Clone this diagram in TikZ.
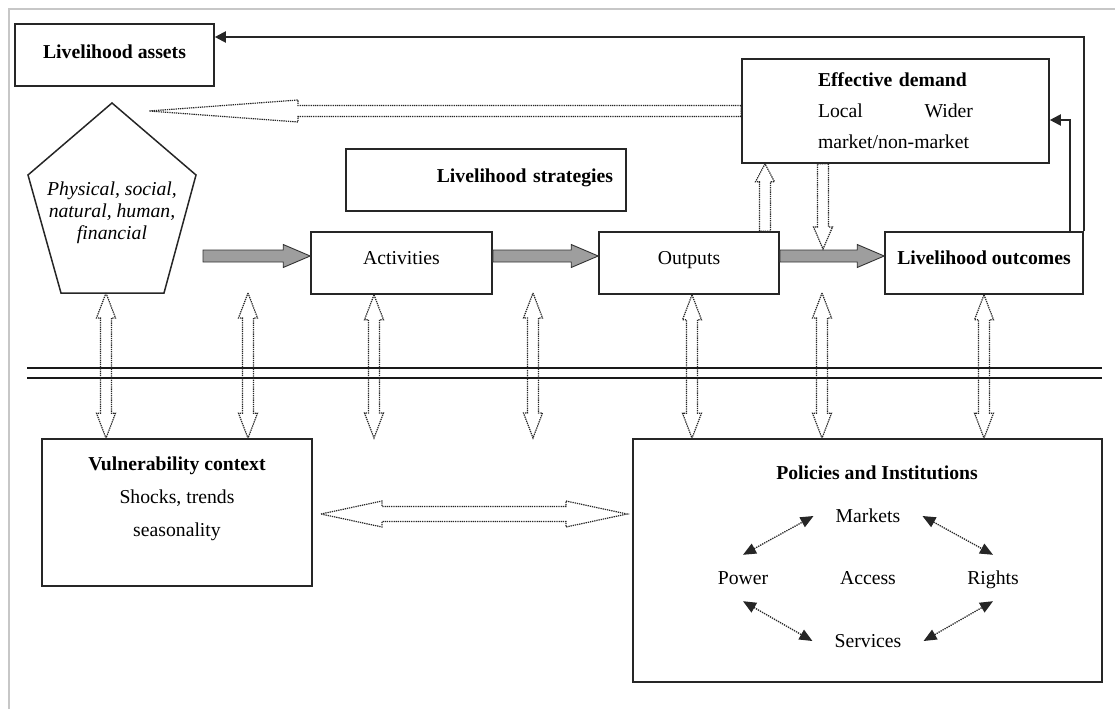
\documentclass[tikz,border=0pt]{standalone}
\usepackage{fontspec}
\setmainfont{Liberation Serif}
\usetikzlibrary{calc,arrows.meta}

% Block arrow with one head: [style]{tail}{tip}{shaft half-width}{head half-width}{head length}
\newcommand{\onehead}[6][hollow]{%
  \coordinate (hA) at #2; \coordinate (hB) at #3;
  \coordinate (hH) at ($(hB)!#6!(hA)$);
  \draw[#1] ($(hA)!#4!90:(hB)$) -- ($(hH)!#4!90:(hB)$) -- ($(hH)!#5!90:(hB)$) -- (hB)
    -- ($(hH)!#5!-90:(hB)$) -- ($(hH)!#4!-90:(hB)$) -- ($(hA)!#4!-90:(hB)$) -- cycle;}
% Block arrow with two heads: [style]{end}{end}{shaft half-width}{head half-width}{head length}
\newcommand{\twohead}[6][hollow]{%
  \coordinate (hA) at #2; \coordinate (hB) at #3;
  \coordinate (hH) at ($(hB)!#6!(hA)$);
  \coordinate (hG) at ($(hA)!#6!(hB)$);
  \draw[#1] (hA) -- ($(hG)!#5!-90:(hA)$) -- ($(hG)!#4!-90:(hA)$) -- ($(hH)!#4!90:(hB)$)
    -- ($(hH)!#5!90:(hB)$) -- (hB) -- ($(hH)!#5!-90:(hB)$) -- ($(hH)!#4!-90:(hB)$)
    -- ($(hG)!#4!90:(hA)$) -- ($(hG)!#5!90:(hA)$) -- cycle;}

\begin{document}
\begin{tikzpicture}[x=1pt,y=-1pt,
  every node/.style={font=\fontsize{19.7}{23.6}\selectfont, inner sep=0pt},
  box/.style={draw=black!85, line width=1.6pt},
  rowbox/.style={box, minimum height=62pt, text height=13.5pt, text depth=10pt},
  hollow/.style={draw=black!85, line width=1.2pt, dash pattern=on 1.3pt off 0.9pt},
  grayarr/.style={draw=black!80, fill=black!38, line width=0.9pt},
  feedback/.style={draw=black!85, line width=2pt, -{Triangle[length=11pt,width=11pt]}},
  link/.style={draw=black!85, line width=1.3pt, densely dotted,
    {Triangle[length=13pt,width=11pt]}-{Triangle[length=13pt,width=11pt]}},
  word/.style={text height=13pt, text depth=0pt, inner xsep=22pt, inner ysep=16.5pt}]

\useasboundingbox (0,0) rectangle (1115,709);
\draw[black!22, line width=1.5pt] (9,709) -- (9,9) -- (1115,9);

% boxes
\node[box, minimum width=199pt, minimum height=62pt, text height=13.5pt, text depth=6pt]
  (assets) at (114.5,55) {\textbf{Livelihood assets}};
\node[box, minimum width=307pt, minimum height=104pt, text width=155pt, align=left,
  font=\fontsize{19.7}{31}\selectfont]
  (ed) at (895.5,111) {\textbf{Effective demand}\\Local\hspace{0pt plus 1fill}Wider\\market/non-market};
\node[box, minimum width=280pt, minimum height=62pt, text width=254pt, align=right,
  text height=13.5pt, text depth=8pt]
  (strat) at (486,180) {\textbf{Livelihood strategies}};
\node[rowbox, minimum width=181pt] (act) at (401.5,263) {Activities};
\node[rowbox, minimum width=180pt] (out) at (689,263) {Outputs};
\node[rowbox, minimum width=198pt] (outc) at (984,263) {\textbf{Livelihood outcomes}};
\node[box, minimum width=270pt, minimum height=147pt] (vul) at (177,512.5) {};
\node[align=center, font=\fontsize{19.7}{33}\selectfont] (vultext) at (177,499)
  {\textbf{Vulnerability context}\\Shocks, trends\\seasonality};
\node[box, minimum width=469pt, minimum height=243pt] (pol) at (867.5,560.5) {};

% capital assets pentagon
\coordinate (p1) at (112,103); \coordinate (p2) at (196,175); \coordinate (p3) at (164,293);
\coordinate (p4) at (61,293);  \coordinate (p5) at (28,175);
\draw[black!85, line width=1.5pt] (p1) -- (p2) -- (p3) -- (p4) -- (p5) -- cycle;
\node[align=center, font=\fontsize{19.7}{22}\selectfont\itshape] (capitals) at (112,213)
  {Physical, social,\\natural, human,\\financial};

% policies and institutions
\node[font=\fontsize{19.7}{23.6}\selectfont\bfseries] (poltitle) at (877,473) {Policies and Institutions};
\node[word] (mkt) at (868,516) {Markets};
\node[word] (pow) at (743,578) {Power};
\node[word] (acc) at (868,578) {Access};
\node[word] (rig) at (993,578) {Rights};
\node[word] (ser) at (868,641) {Services};
\draw[link] (pow.north) -- (mkt.west);
\draw[link] (mkt.east) -- (rig.north);
\draw[link] (pow.south) -- (ser.west);
\draw[link] (ser.east) -- (rig.south);

% main flow
\coordinate (flow) at (203,256);
\onehead[grayarr]{(flow)}{(act.west |- flow)}{6pt}{11.5pt}{27pt}
\onehead[grayarr]{(act.east |- flow)}{(out.west |- flow)}{6pt}{11.5pt}{27pt}
\onehead[grayarr]{(out.east |- flow)}{(outc.west |- flow)}{6pt}{11.5pt}{27pt}

% feedback lines
\coordinate (topline) at (0,37);
\coordinate (edline) at (1070,120);
\draw[feedback] (outc.north east) |- (assets.east |- topline);
\draw[feedback] (outc.north -| edline) |- (ed.east |- edline);

% divider
\coordinate (divL) at (27,368); \coordinate (divR) at (1102,368);
\draw[black!90, line width=1.8pt] (divL) -- (divR);
\draw[black!90, line width=1.8pt] ($(divL)+(0,10)$) -- ($(divR)+(0,10)$);

% effective demand links
\coordinate (upx) at (765,0); \coordinate (dnx) at (823,0);
\coordinate (dntip) at (823,249);
\coordinate (assetstip) at (149,111);
\onehead{(out.north -| upx)}{(ed.south -| upx)}{5.5pt}{9.5pt}{18pt}
\onehead{(ed.south -| dnx)}{(dntip)}{5.5pt}{9.5pt}{22pt}
\onehead{(ed.west |- assetstip)}{(assetstip)}{5.5pt}{11pt}{149pt}

% vertical two-way links
\coordinate (rowtop) at (0,293); \coordinate (rowbot) at (0,438);
\twohead{(p4 -| 106,0)}{(vul.north -| 106,0)}{5.5pt}{9.5pt}{25pt}
\twohead{(rowtop -| 248,0)}{(vul.north -| 248,0)}{5.5pt}{9.5pt}{25pt}
\twohead{(act.south -| 374,0)}{(rowbot -| 374,0)}{5.5pt}{9.5pt}{25pt}
\twohead{(rowtop -| 533,0)}{(rowbot -| 533,0)}{5.5pt}{9.5pt}{25pt}
\twohead{(out.south -| 692,0)}{(pol.north -| 692,0)}{5.5pt}{9.5pt}{25pt}
\twohead{(rowtop -| 822,0)}{(pol.north -| 822,0)}{5.5pt}{9.5pt}{25pt}
\twohead{(outc.south)}{(pol.north -| outc.south)}{5.5pt}{9.5pt}{25pt}

% vulnerability <-> policies
\coordinate (midL) at (321,514); \coordinate (midR) at (627,514);
\twohead{(midL)}{(midR)}{7.5pt}{13pt}{61pt}

\end{tikzpicture}
\end{document}
